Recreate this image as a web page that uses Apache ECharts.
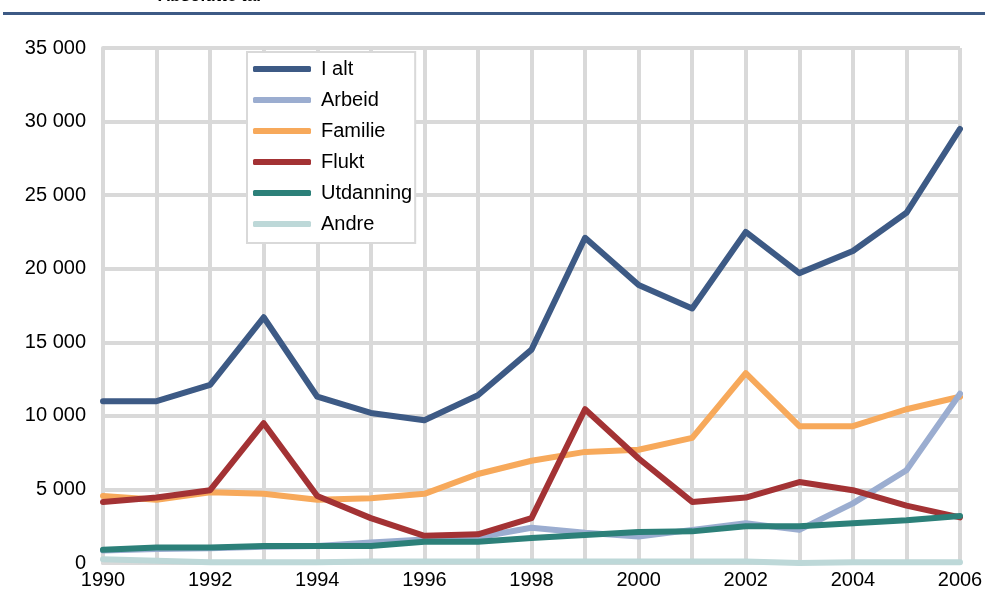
<!DOCTYPE html>
<html>
<head>
<meta charset="utf-8">
<script src="https://cdn.jsdelivr.net/npm/echarts@6/dist/echarts.min.js"></script>
<style>
html,body{margin:0;padding:0;background:#fff;}
#chart{width:991px;height:599px;}
</style>
</head>
<body>
<div id="chart"></div>
<script>
var years = ['1990','1991','1992','1993','1994','1995','1996','1997','1998','1999','2000','2001','2002','2003','2004','2005','2006'];
var iAlt =      [11000,11000,12100,16700,11300,10200,9700,11400,14500,22100,18900,17300,22500,19700,21200,23800,29500];
var arbeid =    [850,950,1000,1100,1150,1400,1600,1750,2400,2050,1800,2250,2700,2250,4050,6300,11500];
var familie =   [4550,4300,4800,4700,4300,4400,4700,6050,6950,7550,7700,8500,12900,9300,9300,10450,11300];
var flukt =     [4150,4450,4950,9500,4550,3050,1850,1950,3050,10450,7100,4150,4450,5500,4950,3900,3100];
var utdanning = [900,1050,1050,1150,1150,1150,1450,1450,1700,1900,2100,2150,2500,2500,2700,2900,3200];
var andre =     [250,150,50,50,50,100,100,100,100,100,100,100,100,0,50,50,50];
var yTicks = [0,5000,10000,15000,20000,25000,30000,35000];

var names = ['I alt','Arbeid','Familie','Flukt','Utdanning','Andre'];
var datas = [iAlt, arbeid, familie, flukt, utdanning, andre];
var colors = ['#3d5a85','#9badd0','#f7a95b','#a33234','#2c8079','#bdd8d8'];
var zs = [9, 6, 5, 7, 8, 4];

var chart = echarts.init(document.getElementById('chart'));
var series = names.map(function(n,i){
  return {
    name: n, type: 'line', data: datas[i], symbol: 'none', smooth: false,
    lineStyle: {width: 6, color: colors[i], cap: 'round', join: 'round'},
    itemStyle: {color: colors[i]},
    z: zs[i], emphasis: {disabled: true}
  };
});

var font = 'Liberation Sans, Arial, sans-serif';
chart.setOption({
  animation: false,
  textStyle: {fontFamily: font},
  grid: {left: 103, right: 31, top: 48, bottom: 36, containLabel: false},
  graphic: [
    {type: 'rect', shape: {x: 3, y: 12, width: 982, height: 3}, style: {fill: '#3d5a85'}, z: 100},
    {type: 'text', x: 158, y: 5, style: {text: 'Absolutte tal', font: 'bold 17px "Liberation Sans", Arial, sans-serif', fill: '#000', verticalAlign: 'bottom', textVerticalAlign: 'bottom'}, z: 100}
  ],
  legend: {
    orient: 'vertical', left: 247, top: 52,
    data: names,
    icon: 'roundRect', itemWidth: 58, itemHeight: 6, itemGap: 11,
    backgroundColor: '#fff', borderColor: '#d9d9d9', borderWidth: 2,
    padding: [7, 3, 9, 6],
    textStyle: {fontSize: 20, color: '#000', fontFamily: font, padding: [0,0,0,5]},
    z: 20
  },
  xAxis: {
    type: 'category', data: years, boundaryGap: false,
    axisLine: {show: true, lineStyle: {color: '#d9d9d9', width: 4}},
    axisTick: {show: false},
    axisLabel: {interval: 1, fontSize: 20, color: '#000', margin: 7},
    splitLine: {show: true, interval: 0, lineStyle: {color: '#d9d9d9', width: 4}}
  },
  yAxis: {
    type: 'value', min: yTicks[0], max: yTicks[yTicks.length-1], interval: 5000,
    axisLine: {show: true, lineStyle: {color: '#d9d9d9', width: 4}},
    axisTick: {show: false},
    axisLabel: {fontSize: 20, color: '#000', margin: 17,
      formatter: function(v){ return String(v).replace(/\B(?=(\d{3})+(?!\d))/g, ' '); }},
    splitLine: {show: true, lineStyle: {color: '#d9d9d9', width: 4}}
  },
  series: series
});
</script>
</body>
</html>
